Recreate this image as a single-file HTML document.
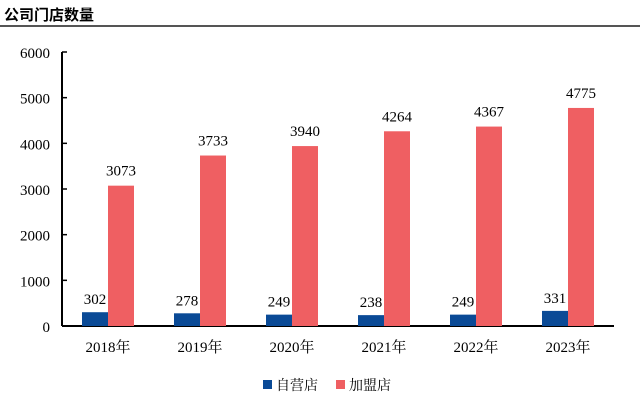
<!DOCTYPE html>
<html><head><meta charset="utf-8"><style>
body{margin:0;background:#fff;width:640px;height:400px;overflow:hidden}
svg text{font-family:"Liberation Serif","Noto Serif CJK SC",serif;fill:#000}
</style></head><body>
<svg id="c" width="640" height="400">
<text x="4" y="20" font-size="15" font-weight="bold" style="font-family:'Noto Sans CJK SC',sans-serif">公司门店数量</text>
<line x1="0" y1="26" x2="640" y2="26" stroke="#555" stroke-width="2"/>
<g id="g"></g>
</svg>
<script>
const categories=["2018年","2019年","2020年","2021年","2022年","2023年"];
const selfOwned=[302,278,249,238,249,331];
const franchise=[3073,3733,3940,4264,4367,4775];
const yTicks=[0,1000,2000,3000,4000,5000,6000];
const ns="http://www.w3.org/2000/svg",g=document.getElementById("g");
const x0=62,cw=92,yb=326,yt=52,ymax=6000;
const y=v=>yb-(v/ymax)*(yb-yt);
const cx=i=>x0+cw*(i+0.5);
function el(t,a,txt){const e=document.createElementNS(ns,t);for(const k in a)e.setAttribute(k,a[k]);if(txt!=null)e.textContent=txt;g.appendChild(e);return e;}
yTicks.forEach(v=>{const t=el("text",{x:50,y:y(v)+6,"font-size":15,"text-anchor":"end"},v);


const l=el("line",{x1:x0,x2:x0+5,y1:y(v),y2:y(v),stroke:"#000","stroke-width":1.5});

});
const ax=el("line",{x1:x0,x2:x0,y1:yt,y2:yb,stroke:"#000","stroke-width":2});


const xa=el("line",{x1:x0,x2:x0+cw*6,y1:yb,y2:yb,stroke:"#000","stroke-width":2});


categories.forEach((c,i)=>{
const b=el("rect",{x:cx(i)-26,y:y(selfOwned[i]),width:26,height:yb-y(selfOwned[i]),fill:"#0a4a96"});


const r=el("rect",{x:cx(i),y:y(franchise[i]),width:26,height:yb-y(franchise[i]),fill:"#ef5f62"});


const t1=el("text",{x:cx(i)-13,y:y(selfOwned[i])-8,"font-size":15,"text-anchor":"middle"},selfOwned[i]);


const t2=el("text",{x:cx(i)+13,y:y(franchise[i])-10,"font-size":15,"text-anchor":"middle"},franchise[i]);


const xl=el("text",{x:cx(i),y:352,"font-size":15,"text-anchor":"middle"},c);


});
const l1=el("rect",{x:263,y:380,width:9,height:9,fill:"#0a4a96"});


const l1t=el("text",{x:276,y:390,"font-size":14},"自营店");


const l2=el("rect",{x:336,y:380,width:9,height:9,fill:"#ef5f62"});


const l2t=el("text",{x:349,y:390,"font-size":14},"加盟店");


</script>
</body></html>
